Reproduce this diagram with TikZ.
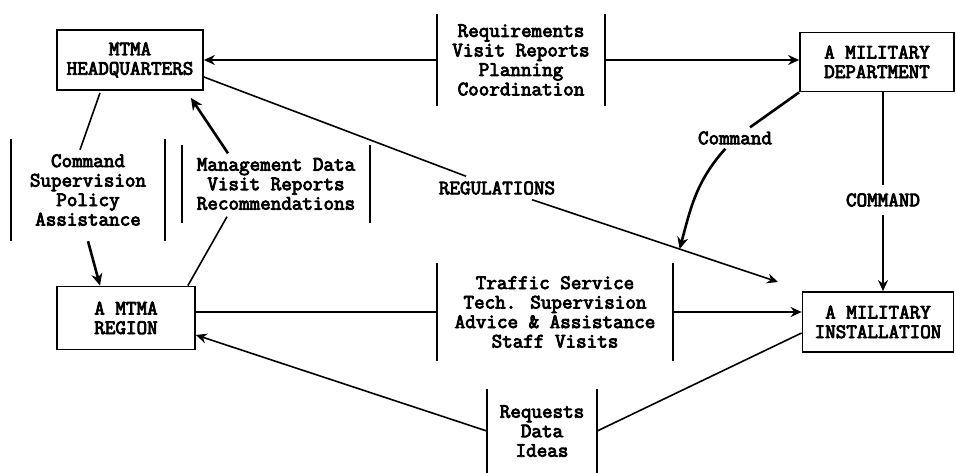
\documentclass[tikz,border=0pt]{standalone}
\usepackage{fontspec}
\newfontfamily\typew{Latin Modern Mono}[FakeBold=4]
\usetikzlibrary{arrows.meta,calc}
\tikzset{
  unit/.style={draw, line width=1.8pt, inner sep=0pt, align=center},
  flow/.style={inner sep=0pt, align=center},
  bar/.style={line width=2pt},
  link/.style={line width=1.6pt},
  arr/.style={link, -{Stealth[length=11pt,width=10pt]}},
  heavy/.style={line width=2.6pt, -{Stealth[length=12pt,width=11pt]}},
}
\begin{document}
\begin{tikzpicture}[x=1pt, y=-1pt, font=\fontsize{20.5}{19.5}\selectfont\typew]
\useasboundingbox (0,0) rectangle (956,473);
% organisation boxes
\node[unit, minimum width=146pt, minimum height=60pt] (hq) at (130,60) {MTMA\\HEADQUARTERS};
\node[unit, minimum width=154pt, minimum height=59pt] (dept) at (877,62) {A MILITARY\\DEPARTMENT};
\node[unit, minimum width=138pt, minimum height=63pt] (reg) at (126,318) {A MTMA\\REGION};
\node[unit, minimum width=151pt, minimum height=60pt] (inst) at (878,322) {A MILITARY\\INSTALLATION};
% what flows between them
\node[flow, minimum width=168pt, minimum height=91pt] (req) at (521,60) {Requirements\\Visit Reports\\Planning\\Coordination};
\node[flow, minimum width=236pt, minimum height=98pt] (trf) at (555,312) {Traffic Service\\Tech. Supervision\\Advice \& Assistance\\Staff Visits};
\node[flow, minimum width=110pt, minimum height=84pt] (reqd) at (542,431) {Requests\\Data\\Ideas};
\node[flow, minimum width=153pt, minimum height=102pt] (cmd) at (88,190) {Command\\Supervision\\Policy\\Assistance};
\node[flow, minimum width=188pt, minimum height=77pt] (mgmt) at (276,184) {Management Data\\Visit Reports\\Recommendations};
\foreach \n in {req,trf,reqd,cmd,mgmt}
  \draw[bar] (\n.north west) -- (\n.south west) (\n.north east) -- (\n.south east);
% free labels
\node[inner sep=5pt] (regl) at (497,188) {REGULATIONS};
\node[inner sep=4pt] (cmdl) at (735,138) {Command};
\node[inner sep=8pt] (cmdv) at (883,200) {COMMAND};
\coordinate (regend) at (778,282);
\path (regl) -- (regend) coordinate[pos=0.6] (cmdend);
% connectors
\draw[arr] (req.west) -- (hq.east);
\draw[arr] (req.east) -- (req.east -| dept.west);
\draw[link] ([yshift=-17pt]hq.east) -- (regl);
\draw[arr] (regl) -- (regend);
\draw[link, line width=2.6pt] (dept.south west) -- (cmdl);
\draw[heavy] (cmdl) to[out=228, in=75] (cmdend);
\draw[link] (cmdv |- dept.south) -- (cmdv);
\draw[arr] (cmdv) -- (cmdv |- inst.north);
\draw[link] (trf.west -| reg.east) -- (trf.west);
\draw[arr] (trf.east) -- (trf.east -| inst.west);
\draw[arr] (reqd.west) -- ([yshift=-17pt]reg.east);
\draw[link] (reqd.east) -- ([yshift=-11pt]inst.west);
\draw[link] ($(hq.south)+(-30,2)$) -- ($(cmd.north)+(-8,11)$);
\draw[heavy] (cmd.south) -- ([xshift=-26pt]reg.north);
\draw[heavy] ($(mgmt.north)+(-48,8)$) -- ($(hq.south east)+(-13,7)$);
\draw[link] ($(reg.north east)+(-8,0)$) -- ($(mgmt.south)+(-49,-6)$);
\end{tikzpicture}
\end{document}
